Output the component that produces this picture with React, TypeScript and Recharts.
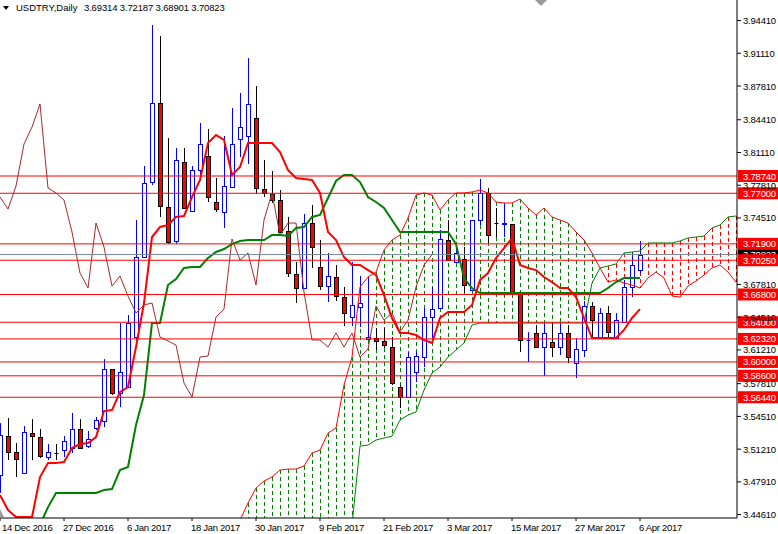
import React from 'react';
import { ComposedChart, Bar, Line, XAxis, YAxis, ReferenceLine } from 'recharts';

const FONT = '"Liberation Sans", Arial, sans-serif';

// ---- time axis ----
const dateTickBars = [0, 8, 16, 24, 32, 40, 48, 56, 64, 72, 80];
const dateLabels = ['14 Dec 2016', '27 Dec 2016', '6 Jan 2017', '18 Jan 2017', '30 Jan 2017', '9 Feb 2017', '21 Feb 2017', '3 Mar 2017', '15 Mar 2017', '27 Mar 2017', '6 Apr 2017'];

// ---- price axis ----
const priceTicks = [3.9441, 3.9111, 3.8781, 3.8441, 3.8111, 3.7781, 3.7451, 3.6781, 3.6451, 3.6121, 3.5781, 3.5451, 3.5121, 3.4791, 3.4461];
const priceDomain = [3.4427, 3.9648];

// ---- daily candles (bar 0 = 14 Dec 2016, bar 80 = 6 Apr 2017) ----
const opens = [
  3.4860, 3.5253, 3.5092, 3.4880, 3.5283, 3.5243, 3.5041, 3.5082, 3.5112, 3.5132,
  3.5324, 3.5152, 3.5334, 3.5404, 3.5928, 3.5687, 3.5747, 3.6251, 3.7057, 3.7813,
  3.8610, 3.7561, 3.7219, 3.8015, 3.7521, 3.7934, 3.8076, 3.7612, 3.7511, 3.7763,
  3.8247, 3.8277, 3.8459, 3.7743, 3.7692, 3.7632, 3.7320, 3.6886, 3.6745, 3.7400,
  3.6957, 3.6765, 3.6856, 3.6654, 3.6453, 3.6553, 3.6231, 3.6241, 3.6211, 3.6150,
  3.5747, 3.5646, 3.5898, 3.6049, 3.6453, 3.6543, 3.7229, 3.7007, 3.7037, 3.6725,
  3.7430, 3.7703, 3.7400, 3.7395, 3.7390, 3.6695, 3.6218, 3.6291, 3.6150, 3.6201,
  3.6150, 3.6291, 3.5989, 3.6120, 3.6564, 3.6241, 3.6493, 3.6241, 3.6402, 3.6755,
  3.69314,
];
const highs = [
  3.5384, 3.5435, 3.5183, 3.5354, 3.5424, 3.5324, 3.5172, 3.5172, 3.5253, 3.5485,
  3.5424, 3.5304, 3.5445, 3.6029, 3.5928, 3.6392, 3.6473, 3.7430, 3.7975, 3.9396,
  3.9285, 3.8257, 3.8156, 3.8156, 3.7975, 3.8408, 3.8348, 3.7854, 3.8277, 3.8559,
  3.8711, 3.9063, 3.8781, 3.8035, 3.7924, 3.7733, 3.7461, 3.7007, 3.7491, 3.7582,
  3.7229, 3.7098, 3.6977, 3.6755, 3.7007, 3.6866, 3.6856, 3.6342, 3.6342, 3.6251,
  3.5767, 3.6100, 3.6100, 3.6543, 3.6755, 3.7330, 3.7430, 3.7158, 3.7158, 3.7430,
  3.7844, 3.7753, 3.7551, 3.7602, 3.7390, 3.6695, 3.6301, 3.6372, 3.6392, 3.6392,
  3.6392, 3.6372, 3.6241, 3.6614, 3.6604, 3.6543, 3.6564, 3.6493, 3.6826, 3.7108,
  3.72187,
];
const lows = [
  3.4679, 3.5011, 3.4840, 3.4870, 3.5011, 3.5031, 3.5011, 3.5011, 3.5041, 3.5082,
  3.5132, 3.5132, 3.5314, 3.5344, 3.5666, 3.5545, 3.5737, 3.6221, 3.7047, 3.7783,
  3.7461, 3.7188, 3.7188, 3.7551, 3.7521, 3.7864, 3.7612, 3.7511, 3.7350, 3.7763,
  3.8065, 3.7995, 3.7692, 3.7662, 3.7602, 3.7299, 3.6856, 3.6594, 3.6745, 3.6947,
  3.6725, 3.6604, 3.6614, 3.6362, 3.6362, 3.6352, 3.6221, 3.6120, 3.6140, 3.5767,
  3.5535, 3.5646, 3.5797, 3.5949, 3.6251, 3.6543, 3.7027, 3.6997, 3.6695, 3.6725,
  3.7380, 3.7199, 3.7259, 3.7259, 3.6705, 3.6100, 3.5999, 3.6140, 3.5858, 3.6049,
  3.6070, 3.5989, 3.5838, 3.6049, 3.6251, 3.6241, 3.6251, 3.6241, 3.6402, 3.6654,
  3.68901,
];
const closes = [
  3.5263, 3.5092, 3.5021, 3.5293, 3.5253, 3.5052, 3.5092, 3.5082, 3.5203, 3.5324,
  3.5132, 3.5223, 3.5414, 3.5928, 3.5687, 3.5898, 3.6392, 3.7057, 3.7803, 3.8610,
  3.7572, 3.7209, 3.8035, 3.7551, 3.7934, 3.8196, 3.7662, 3.7541, 3.7773, 3.8196,
  3.8368, 3.8600, 3.7753, 3.7703, 3.7632, 3.7309, 3.6896, 3.6745, 3.7400, 3.7158,
  3.6765, 3.6866, 3.6664, 3.6493, 3.6574, 3.6594, 3.6251, 3.6211, 3.6170, 3.5787,
  3.5646, 3.6049, 3.6060, 3.6453, 3.6533, 3.7239, 3.7027, 3.7098, 3.6775, 3.7430,
  3.7703, 3.7279, 3.7400, 3.7400, 3.6705, 3.6221, 3.6221, 3.6150, 3.6291, 3.6150,
  3.6291, 3.6049, 3.6130, 3.6564, 3.6422, 3.6493, 3.6301, 3.6422, 3.6755, 3.6977,
  3.70823,
];

// ---- Ichimoku ----
const tenkan = [
  3.4658, 3.4507, 3.4437, 3.4437, 3.4437, 3.4840, 3.4981, 3.4981, 3.4991, 3.5132,
  3.5172, 3.5183, 3.5243, 3.5505, 3.5515, 3.5697, 3.5747, 3.6150, 3.6594, 3.7259,
  3.7360, 3.7380, 3.7461, 3.7471, 3.7662, 3.7834, 3.8207, 3.8287, 3.8237, 3.7884,
  3.7965, 3.8207, 3.8207, 3.8207, 3.8207, 3.8116, 3.7934, 3.7854, 3.7844, 3.7834,
  3.7703, 3.7309, 3.7229, 3.7057, 3.6977, 3.6977, 3.6926, 3.6876, 3.6674, 3.6443,
  3.6291, 3.6291, 3.6271, 3.6221, 3.6191, 3.6443, 3.6503, 3.6503, 3.6503, 3.6574,
  3.6826, 3.6896, 3.7047, 3.7148, 3.7249, 3.6977, 3.6947, 3.6926, 3.6856, 3.6805,
  3.6745, 3.6745, 3.6654, 3.6443, 3.6241, 3.6241, 3.6241, 3.6241, 3.6322, 3.6443,
  3.6533,
];
const kijun = [
  3.4300, 3.4300, 3.4300, 3.4300, 3.4300, 3.4356, 3.4537, 3.4679, 3.4679, 3.4679,
  3.4679, 3.4679, 3.4679, 3.4709, 3.4719, 3.4910, 3.4941, 3.5364, 3.5666, 3.6392,
  3.6392, 3.6775, 3.6836, 3.6947, 3.6957, 3.6957, 3.7047, 3.7108, 3.7138, 3.7188,
  3.7219, 3.7229, 3.7229, 3.7229, 3.7279, 3.7279, 3.7269, 3.7350, 3.7360, 3.7461,
  3.7481, 3.7652, 3.7824, 3.7884, 3.7884, 3.7813, 3.7662, 3.7612, 3.7551, 3.7430,
  3.7309, 3.7309, 3.7309, 3.7309, 3.7309, 3.7309, 3.7309, 3.7188, 3.6846, 3.6745,
  3.6695, 3.6695, 3.6695, 3.6695, 3.6695, 3.6695, 3.6695, 3.6695, 3.6695, 3.6695,
  3.6695, 3.6695, 3.6695, 3.6695, 3.6695, 3.6695, 3.6745, 3.6805, 3.6846, 3.6846,
  3.6846,
];
// cloud spans, starting at bar 29 and running to bar 92 (26 bars ahead of price)
const cloudStartBar = 29;
const spanRed = [
  3.4205, 3.4406, 3.4578, 3.4729, 3.4800, 3.4840, 3.4910, 3.4920, 3.4920, 3.4951, 3.5082,
  3.5112, 3.5283, 3.5334, 3.5767, 3.6049, 3.6755, 3.6856, 3.6906, 3.7128, 3.7229,
  3.7279, 3.7451, 3.7682, 3.7703, 3.7682, 3.7531, 3.7632, 3.7703, 3.7703, 3.7713,
  3.7733, 3.7703, 3.7612, 3.7602, 3.7602, 3.7642, 3.7551, 3.7481, 3.7551, 3.7461,
  3.7430, 3.7400, 3.7309, 3.7229, 3.7098, 3.6947, 3.6805, 3.6826, 3.6795, 3.6775,
  3.6745, 3.6846, 3.6906, 3.6846, 3.6664, 3.6654, 3.6765, 3.6816, 3.6876, 3.6947,
  3.6977, 3.6906, 3.6805,
];
const spanGreen = [
  3.4000, 3.4000, 3.4000, 3.4000, 3.4000, 3.4000, 3.4000, 3.4000, 3.4000, 3.4000, 3.4000,
  3.4000, 3.4000, 3.4000, 3.4000, 3.4356, 3.5152, 3.5162, 3.5213, 3.5233, 3.5253,
  3.5414, 3.5465, 3.5495, 3.5717, 3.5888, 3.5949, 3.6049, 3.6120, 3.6191, 3.6372,
  3.6392, 3.6392, 3.6392, 3.6392, 3.6392, 3.6392, 3.6392, 3.6392, 3.6392, 3.6392,
  3.6392, 3.6392, 3.6392, 3.6392, 3.6795, 3.6947, 3.6967, 3.6987, 3.7098, 3.7108,
  3.7118, 3.7199, 3.7199, 3.7199, 3.7199, 3.7219, 3.7249, 3.7259, 3.7269, 3.7350,
  3.7380, 3.7461, 3.7471,
];
const chikouShift = 26;

// ---- horizontal levels ----
const levels = [3.7874, 3.77, 3.719, 3.7025, 3.668, 3.64, 3.6232, 3.6, 3.586, 3.5644];
const lastPrice = 3.70823;
const header = { symbol: 'USDTRY,Daily', ohlc: '3.69314 3.72187 3.68901 3.70823' };

const totalBars = cloudStartBar + spanRed.length; // 93
const data = Array.from({ length: totalBars }, (_, i) => {
  const has = i < opens.length;
  const r = i >= cloudStartBar ? spanRed[i - cloudStartBar] : null;
  const g = i >= cloudStartBar ? spanGreen[i - cloudStartBar] : null;
  return {
    i,
    open: has ? opens[i] : null,
    high: has ? highs[i] : null,
    low: has ? lows[i] : null,
    close: has ? closes[i] : null,
    range: has ? [lows[i], highs[i]] : null,
    tenkan: has ? tenkan[i] : null,
    kijun: has ? kijun[i] : null,
    chikou: i + chikouShift < closes.length ? closes[i + chikouShift] : null,
    spanRed: r,
    spanGreen: g,
    cloud: r != null && g != null ? [Math.min(r, g), Math.max(r, g)] : null,
    cloudUp: r != null && g != null ? r > g : false,
  };
});

function CandleShape(props: any) {
  const { x, y, width, height, payload } = props;
  if (!payload || payload.high == null || x == null || isNaN(y)) return null;
  const top = Math.min(y, y + height);
  const bot = Math.max(y, y + height);
  const { open, close, high, low } = payload;
  const span = high - low;
  const py = (p: number) => (span > 0 ? top + ((high - p) / span) * (bot - top) : top);
  const cx = Math.round(x + width / 2) + 0.5;
  const bull = close > open;
  const bear = close < open;
  const stroke = bull ? '#0000ff' : '#000000';
  const yO = py(open);
  const yC = py(close);
  const bTop = Math.round(Math.min(yO, yC)) + 0.5;
  const bBot = Math.round(Math.max(yO, yC)) + 0.5;
  return (
    <g>
      <line x1={cx} x2={cx} y1={top} y2={bot} stroke={stroke} strokeWidth={1} />
      {bBot - bTop < 1 ? (
        <line x1={cx - 2} x2={cx + 2} y1={bTop} y2={bTop} stroke={stroke} strokeWidth={1} />
      ) : (
        <rect x={cx - 2} y={bTop} width={4} height={bBot - bTop} fill={bear ? '#ff0000' : '#ffffff'} stroke={stroke} strokeWidth={1} />
      )}
    </g>
  );
}

function HatchShape(props: any) {
  const { x, y, width, height, payload } = props;
  if (!payload || payload.cloud == null || x == null || isNaN(y)) return null;
  const top = Math.min(y, y + height);
  const bot = Math.max(y, y + height);
  const cx = Math.round(x + width / 2) + 0.5;
  return (
    <line x1={cx} x2={cx} y1={top} y2={bot} stroke={payload.cloudUp ? '#008000' : '#ff0000'} strokeWidth={1} strokeDasharray="4 3" />
  );
}

function DateTick(props: any) {
  const { x, y, payload } = props;
  const idx = dateTickBars.indexOf(payload.value);
  const label = idx >= 0 ? dateLabels[idx] : '';
  return (
    <text x={Math.max(x - 1, 2)} y={y + 10} fontSize={9.5} fontFamily={FONT} fill="#000" letterSpacing={-0.3}>
      {label}
    </text>
  );
}

function PriceTick(props: any) {
  const { x, y, payload } = props;
  return (
    <text x={x} y={y + 3.5} fontSize={9.5} fontFamily={FONT} fill="#000" letterSpacing={-0.2}>
      {Number(payload.value).toFixed(5)}
    </text>
  );
}

function tagLabel(text: string, bg: string) {
  return (props: any) => {
    const vb = props.viewBox || {};
    const x = (vb.x ?? 0) + (vb.width ?? 0) + 1;
    const y = vb.y ?? 0;
    return (
      <g>
        <rect x={x} y={y - 6} width={41} height={12} fill={bg} />
        <text x={x + 5} y={y + 3.5} fontSize={9.5} fontFamily={FONT} fill="#ffffff" letterSpacing={-0.2}>
          {text}
        </text>
      </g>
    );
  };
}

export default function App() {
  return (
    <div style={{ position: 'absolute', left: 0, top: 0, width: 778, height: 534, background: '#fff' }}>
      <ComposedChart width={778} height={534} data={data} margin={{ top: 0, right: 0, bottom: 0, left: 0 }}>
        <XAxis
          dataKey="i"
          type="number"
          domain={[0, 92.125]}
          allowDataOverflow
          ticks={dateTickBars}
          interval={0}
          height={16}
          tickSize={3}
          tickMargin={0}
          tickLine={{ stroke: '#000' }}
          axisLine={{ stroke: '#000' }}
          tick={<DateTick />}
        />
        <XAxis xAxisId="h" dataKey="i" type="number" domain={[0, 92.125]} allowDataOverflow hide />
        <YAxis
          orientation="right"
          width={41}
          type="number"
          domain={priceDomain}
          allowDataOverflow
          ticks={priceTicks}
          interval={0}
          tickSize={4}
          tickMargin={2}
          tickLine={{ stroke: '#000' }}
          axisLine={{ stroke: '#000' }}
          tick={<PriceTick />}
        />
        <Bar xAxisId="h" dataKey="cloud" barSize={6} shape={<HatchShape />} isAnimationActive={false} />
        <Bar dataKey="range" barSize={6} shape={<CandleShape />} isAnimationActive={false} />
        <Line dataKey="spanRed" stroke="#ff0000" strokeWidth={1} dot={false} activeDot={false} isAnimationActive={false} />
        <Line dataKey="spanGreen" stroke="#008000" strokeWidth={1} dot={false} activeDot={false} isAnimationActive={false} />
        <Line dataKey="chikou" stroke="#a52a2a" strokeWidth={1} dot={false} activeDot={false} isAnimationActive={false} />
        <Line dataKey="kijun" stroke="#008000" strokeWidth={2} dot={false} activeDot={false} isAnimationActive={false} />
        <Line dataKey="tenkan" stroke="#ff0000" strokeWidth={2} dot={false} activeDot={false} isAnimationActive={false} />
        <ReferenceLine y={lastPrice} stroke="#778899" strokeWidth={1} label={tagLabel(lastPrice.toFixed(5), '#000000')} />
        {levels.map((lv) => (
          <ReferenceLine key={lv} y={lv} stroke="#ff0000" strokeWidth={1} label={tagLabel(lv.toFixed(5), '#ff0000')} />
        ))}
      </ComposedChart>
      <svg width={778} height={534} style={{ position: 'absolute', left: 0, top: 0, pointerEvents: 'none' }}>
        <polygon points="3,6 9,6 6,10" fill="#000" />
        <text x={16} y={11} fontSize={9.5} fontFamily={FONT} fill="#000">{header.symbol}</text>
        <text x={84} y={11} fontSize={9.5} fontFamily={FONT} fill="#000" letterSpacing={-0.15}>{header.ohlc}</text>
        <polygon points="535,0 547,0 541,6" fill="#9a9a9a" />
        <polygon points="0,509 4,517 0,517" fill="#9a9a9a" />
      </svg>
    </div>
  );
}
